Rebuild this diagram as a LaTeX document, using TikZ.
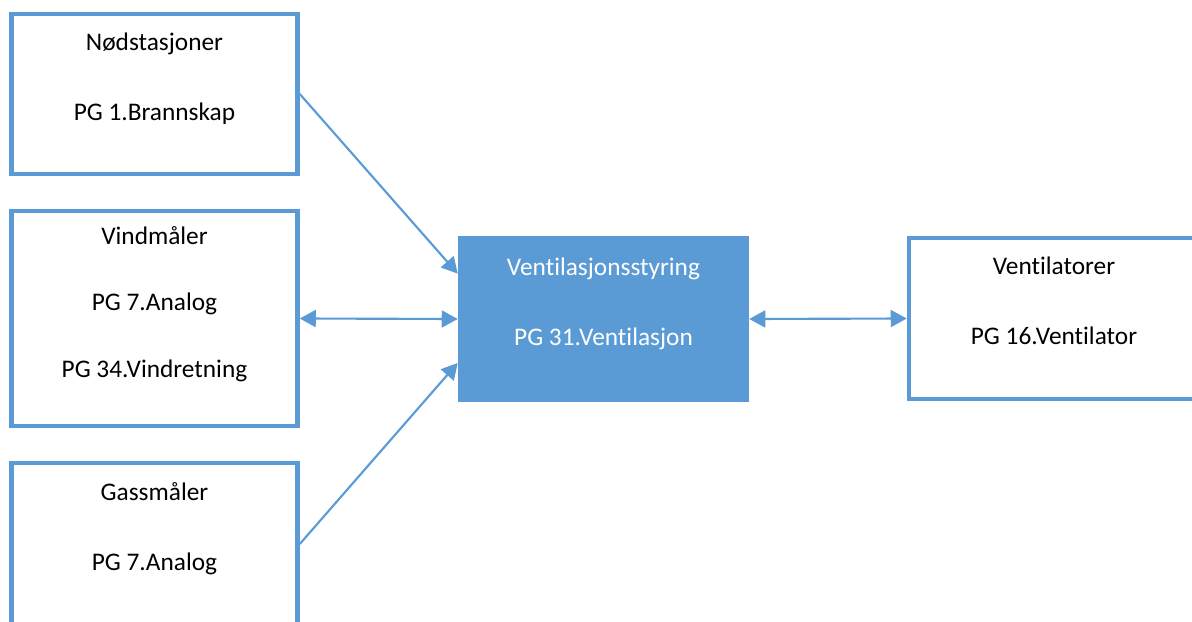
\documentclass[tikz,border=0pt]{standalone}
\usepackage{fontspec}
\setmainfont{Carlito}[Ligatures=NoCommon]
\usepackage{tikz}
\usetikzlibrary{arrows.meta}
\definecolor{visioBlue}{HTML}{5B9BD5}
\tikzset{
    vbox/.style={draw=visioBlue, line width=3.4pt, fill=white, align=center, inner sep=0pt, font=\fontsize{19}{26.25}\selectfont},
    vfill/.style={fill=visioBlue, text=white, align=center, inner sep=0pt, font=\fontsize{19}{26.25}\selectfont},
    vline/.style={draw=visioBlue, line width=1.6pt, -{Triangle[length=12pt,width=12.75pt]}},
    vboth/.style={draw=visioBlue, line width=1.6pt, {Triangle[length=12pt,width=12.75pt]}-{Triangle[length=12pt,width=12.75pt]}}
}
\begin{document}
\begin{tikzpicture}[x=0.75pt, y=-0.75pt]
            \useasboundingbox (0,0) rectangle (1192,621);
            \clip (0,0) rectangle (1192,621);
            \node[vbox, minimum width=214.5pt, minimum height=120pt] (nod) at (154.5,94) {Nødstasjoner\\~\\PG 1.Brannskap\\~};
            \node[vbox, minimum width=214.5pt, minimum height=161.25pt, font=\fontsize{19}{25}\selectfont] (vind) at (154.5,318.5) {Vindmåler\\~\\PG 7.Analog\\~\\PG 34.Vindretning\\~};
            \node[vbox, minimum width=214.5pt, minimum height=121.5pt] (gass) at (154.5,544) {Gassmåler\\~\\PG 7.Analog\\~};
            \node[vfill, minimum width=218.25pt, minimum height=124.5pt] (ctrl) at (603.5,319) {Ventilasjonsstyring\\~\\PG 31.Ventilasjon\\~};
            \node[vbox, minimum width=217.5pt, minimum height=120.75pt] (vent) at (1054,318.5) {Ventilatorer\\~\\PG 16.Ventilator\\~};
            \draw[vline] (nod.east) -- ([yshift=34pt]ctrl.west);
            \draw[vline] (gass.east) -- ([yshift=-33pt]ctrl.west);
            \draw[vboth] (vind.east) -- (ctrl.west);
            \draw[vboth] (ctrl.east) -- (vent.west);
        \end{tikzpicture}
\end{document}
